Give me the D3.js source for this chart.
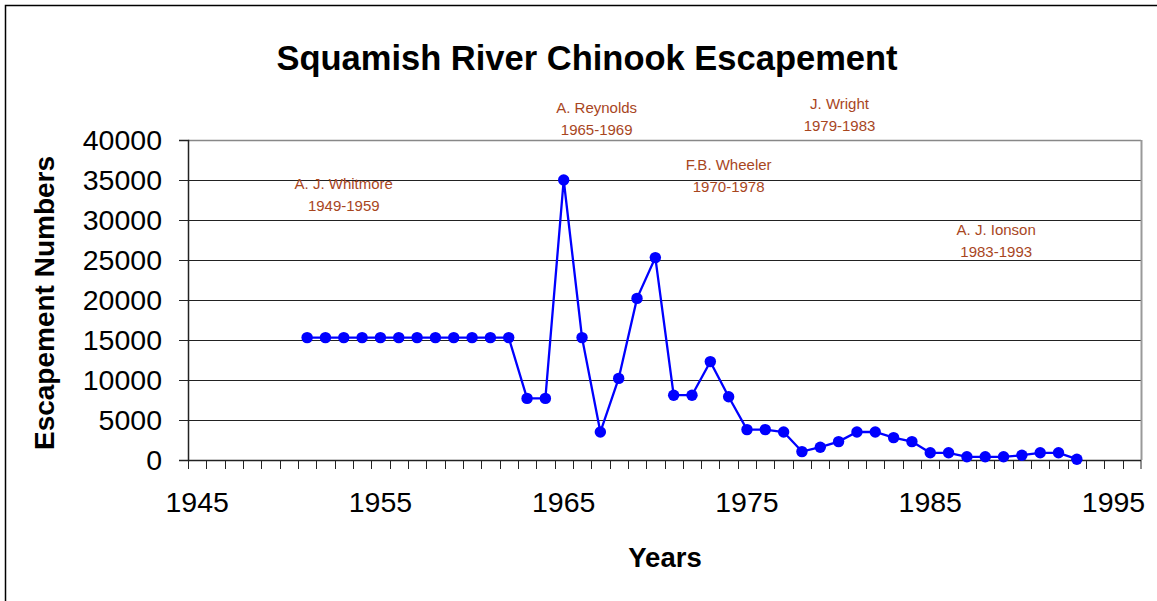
<!DOCTYPE html>
<html>
<head>
<meta charset="utf-8">
<script src="https://cdn.jsdelivr.net/npm/d3@7"></script>
<style>
  body { margin: 0; background: #fff; }
  svg { font-family: "Liberation Sans", Arial, sans-serif; display: block; }
</style>
</head>
<body>
<div id="chart"></div>
<script>
// anos e escapement
var years = [1951, 1952, 1953, 1954, 1955, 1956, 1957, 1958, 1959, 1960, 1961, 1962,
             1963, 1964, 1965, 1966, 1967, 1968, 1969, 1970, 1971, 1972, 1973, 1974,
             1975, 1976, 1977, 1978, 1979, 1980, 1981, 1982, 1983, 1984, 1985, 1986,
             1987, 1988, 1989, 1990, 1991, 1992, 1993];
var escapement = [15300, 15300, 15300, 15300, 15300, 15300, 15300, 15300, 15300, 15300, 15300, 15300,
                  7700, 7700, 35000, 15300, 3500, 10200, 20200, 25300, 8100, 8100, 12300, 7900,
                  3800, 3800, 3500, 1050, 1600, 2300, 3500, 3500, 2800, 2300, 900, 900,
                  400, 400, 400, 600, 900, 900, 100];

// eixo de categorias 1945..1996
var axisYears = d3.range(1945, 1997);
var xTickLabels = [1945, 1955, 1965, 1975, 1985, 1995];
var yTicks = [0, 5000, 10000, 15000, 20000, 25000, 30000, 35000, 40000];

// anotações (nome, período, ano e valor de ancoragem)
var noteNames = ["A. J. Whitmore", "A. Reynolds", "F.B. Wheeler", "J. Wright", "A. J. Ionson"];
var notePeriods = ["1949-1959", "1965-1969", "1970-1978", "1979-1983", "1983-1993"];
var noteYears = [1953.0, 1966.8, 1974.0, 1980.05, 1988.6];
var noteValues = [33875, 43375, 36250, 43875, 28125];

var width = 1157, height = 601;
var margin = {top: 140, right: 16, bottom: 141, left: 188};
var plotWidth = width - margin.left - margin.right;
var plotHeight = height - margin.top - margin.bottom;

var svg = d3.select('#chart').append('svg')
    .attr('width', width).attr('height', height);

// moldura externa
svg.append('rect')
    .attr('x', 5.5).attr('y', 5.5)
    .attr('width', width + 10).attr('height', height + 10)
    .attr('fill', '#fff').attr('stroke', '#000').attr('stroke-width', 1.5);

var xs = d3.scaleBand().domain(axisYears).range([0, plotWidth]);
var ys = d3.scaleLinear().domain([0, 40000]).range([plotHeight, 0]);
var xc = function(y){ return xs(y) + xs.bandwidth() / 2; };
// posição contínua para as anotações
var xl = d3.scaleLinear().domain([1944.5, 1996.5]).range([0, plotWidth]);

var plotArea = svg.append('g')
    .attr('transform', 'translate(' + margin.left + ',' + margin.top + ')');

// linhas de grade
plotArea.selectAll('.grid').data(yTicks.filter(function(d){ return d > 0; })).enter()
    .append('line')
    .attr('x1', 0).attr('x2', plotWidth)
    .attr('y1', function(d){ return Math.round(ys(d)) + 0.5; })
    .attr('y2', function(d){ return Math.round(ys(d)) + 0.5; })
    .attr('stroke', function(d){ return d === 40000 ? '#888' : '#222'; })
    .attr('stroke-width', function(d){ return d === 40000 ? 1.5 : 1; });

// borda direita
plotArea.append('line')
    .attr('x1', plotWidth + 0.5).attr('x2', plotWidth + 0.5)
    .attr('y1', 0).attr('y2', plotHeight)
    .attr('stroke', '#999').attr('stroke-width', 2);

// eixo Y
var yAxis = plotArea.append('g')
    .call(d3.axisLeft(ys).tickValues(yTicks).tickSize(9).tickPadding(17).tickFormat(d3.format('d')));
yAxis.select('.domain').attr('stroke', '#222').attr('stroke-width', 1.5);
yAxis.selectAll('.tick line').attr('stroke', '#222');
yAxis.selectAll('text').attr('font-size', 28.5).attr('fill', '#000')
    .attr('font-family', '"Liberation Sans", Arial, sans-serif');

// eixo X
var xAxisG = plotArea.append('g').attr('transform', 'translate(0,' + plotHeight + ')');
xAxisG.append('line')
    .attr('x1', 0).attr('x2', plotWidth)
    .attr('y1', 0.5).attr('y2', 0.5)
    .attr('stroke', '#222').attr('stroke-width', 1.5);
xAxisG.selectAll('.xtick').data(axisYears.concat([1997])).enter()
    .append('line')
    .attr('x1', function(d){ return d === 1997 ? plotWidth : Math.round(xs(d)) + 0.5; })
    .attr('x2', function(d){ return d === 1997 ? plotWidth : Math.round(xs(d)) + 0.5; })
    .attr('y1', 0).attr('y2', 9)
    .attr('stroke', '#222');
var xAxis = xAxisG.append('g')
    .call(d3.axisBottom(xs).tickValues(xTickLabels).tickSize(0).tickPadding(32));
xAxis.select('.domain').remove();
xAxis.selectAll('text').attr('font-size', 28.5).attr('fill', '#000')
    .attr('font-family', '"Liberation Sans", Arial, sans-serif');

// série
var line = d3.line()
    .x(function(d, i){ return xc(years[i]); })
    .y(function(d){ return ys(d); });
plotArea.append('path')
    .datum(escapement)
    .attr('d', line)
    .attr('fill', 'none')
    .attr('stroke', '#0000ff')
    .attr('stroke-width', 2.3);

plotArea.selectAll('.dot').data(escapement).enter().append('circle')
    .attr('r', 5.7)
    .attr('cx', function(d, i){ return xc(years[i]); })
    .attr('cy', function(d){ return ys(d); })
    .attr('fill', '#0000ff');

// anotações
noteNames.forEach(function(n, i){
    var g = plotArea.append('g')
        .attr('text-anchor', 'middle')
        .attr('font-size', 15)
        .attr('fill', '#a8461e');
    g.append('text').attr('x', xl(noteYears[i])).attr('y', ys(noteValues[i])).text(n);
    g.append('text').attr('x', xl(noteYears[i])).attr('y', ys(noteValues[i]) + 22).text(notePeriods[i]);
});

// títulos
svg.append('text')
    .attr('x', 587).attr('y', 70)
    .attr('text-anchor', 'middle')
    .attr('font-size', 34.5).attr('font-weight', 'bold')
    .text('Squamish River Chinook Escapement');

svg.append('text')
    .attr('x', 665).attr('y', 567)
    .attr('text-anchor', 'middle')
    .attr('font-size', 27.5).attr('font-weight', 'bold')
    .text('Years');

svg.append('text')
    .attr('transform', 'translate(54,303) rotate(-90)')
    .attr('text-anchor', 'middle')
    .attr('font-size', 28).attr('font-weight', 'bold')
    .text('Escapement Numbers');
</script>
</body>
</html>
